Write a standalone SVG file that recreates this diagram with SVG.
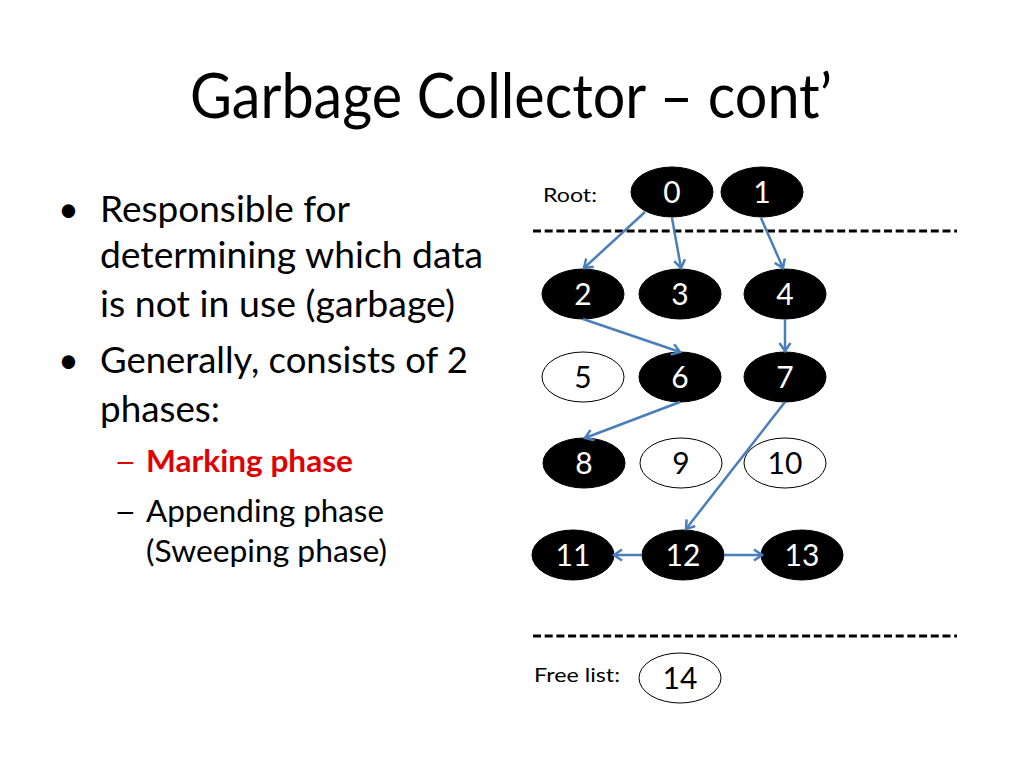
<svg xmlns="http://www.w3.org/2000/svg" width="1024" height="768" viewBox="0 0 1024 768">
<style>
text{font-family:Lato,"Liberation Sans",sans-serif}
.title{font-size:62px;fill:#000}
.body{font-size:36px;fill:#000}
.sub{font-size:30px;fill:#000}
.red{fill:#E00000;font-weight:bold}
.small{font-size:20px;fill:#000}
.blk{fill:#000;stroke:#000;stroke-width:1}
.wht{fill:#fff;stroke:#000;stroke-width:1}
.lblw{font-size:30px;fill:#fff;text-anchor:middle}
.lblb{font-size:30px;fill:#000;text-anchor:middle}
.dash{stroke:#000;stroke-width:2.8;stroke-dasharray:8 3.7}
.edge{stroke:#4A7EBB;stroke-width:2.5;fill:none;marker-end:url(#arr)}
</style>
<defs>
<marker id="arr" markerUnits="userSpaceOnUse" markerWidth="14" markerHeight="14" refX="11" refY="7" orient="auto">
<path d="M3,1.5 L11,7 L3,12.5" fill="none" stroke="#4A7EBB" stroke-width="2.5"/>
</marker>
</defs>
<rect width="1024" height="768" fill="#fff"/>
<text class="title" x="190" y="118" textLength="642" lengthAdjust="spacingAndGlyphs">Garbage Collector – cont’</text>
<g id="bullets">
<text class="body" x="58" y="222">•</text>
<text class="body" x="100" y="222" textLength="250" lengthAdjust="spacingAndGlyphs">Responsible for</text>
<text class="body" x="100" y="268" textLength="383" lengthAdjust="spacingAndGlyphs">determining which data</text>
<text class="body" x="100" y="317" textLength="355" lengthAdjust="spacingAndGlyphs">is not in use (garbage)</text>
<text class="body" x="58" y="373">•</text>
<text class="body" x="100" y="373" textLength="368" lengthAdjust="spacingAndGlyphs">Generally, consists of 2</text>
<text class="body" x="100" y="422" textLength="120" lengthAdjust="spacingAndGlyphs">phases:</text>
<text class="sub" transform="translate(114,472) scale(1.3,1)" x="0" y="0" style="fill:#E00000">–</text>
<text class="sub red" x="146" y="472" textLength="207" lengthAdjust="spacingAndGlyphs">Marking phase</text>
<text class="sub" transform="translate(114,522) scale(1.3,1)" x="0" y="0">–</text>
<text class="sub" x="146" y="522" textLength="238" lengthAdjust="spacingAndGlyphs">Appending phase</text>
<text class="sub" x="146" y="562" textLength="241" lengthAdjust="spacingAndGlyphs">(Sweeping phase)</text>
</g>
<text class="small" x="543" y="202" textLength="54" lengthAdjust="spacingAndGlyphs">Root:</text>
<text class="small" x="534" y="682" textLength="86" lengthAdjust="spacingAndGlyphs">Free list:</text>
<line class="dash" x1="533" y1="231" x2="957" y2="231"/>
<line class="dash" x1="533" y1="636" x2="957" y2="636"/>
<g id="n0"><ellipse class="blk" cx="672" cy="192" rx="41" ry="25"/><text class="lblw" x="672" y="203">0</text></g>
<g id="n1"><ellipse class="blk" cx="762" cy="192" rx="41" ry="25"/><text class="lblw" x="762" y="203">1</text></g>
<g id="n2"><ellipse class="blk" cx="583" cy="294" rx="41" ry="25"/><text class="lblw" x="583" y="305">2</text></g>
<g id="n3"><ellipse class="blk" cx="680" cy="294" rx="41" ry="25"/><text class="lblw" x="680" y="305">3</text></g>
<g id="n4"><ellipse class="blk" cx="785" cy="294" rx="41" ry="25"/><text class="lblw" x="785" y="305">4</text></g>
<g id="n5"><ellipse class="wht" cx="583" cy="377" rx="41" ry="25"/><text class="lblb" x="583" y="388">5</text></g>
<g id="n6"><ellipse class="blk" cx="680" cy="377" rx="41" ry="25"/><text class="lblw" x="680" y="388">6</text></g>
<g id="n7"><ellipse class="blk" cx="785" cy="377" rx="41" ry="25"/><text class="lblw" x="785" y="388">7</text></g>
<g id="n8"><ellipse class="blk" cx="584" cy="463" rx="41" ry="25"/><text class="lblw" x="584" y="474">8</text></g>
<g id="n9"><ellipse class="wht" cx="681" cy="463" rx="41" ry="25"/><text class="lblb" x="681" y="474">9</text></g>
<g id="n10"><ellipse class="wht" cx="785" cy="463" rx="41" ry="25"/><text class="lblb" x="785" y="474">10</text></g>
<g id="n11"><ellipse class="blk" cx="573" cy="555" rx="41" ry="25"/><text class="lblw" x="573" y="566">11</text></g>
<g id="n12"><ellipse class="blk" cx="683" cy="555" rx="41" ry="25"/><text class="lblw" x="683" y="566">12</text></g>
<g id="n13"><ellipse class="blk" cx="802" cy="555" rx="41" ry="25"/><text class="lblw" x="802" y="566">13</text></g>
<g id="n14"><ellipse class="wht" cx="680" cy="678" rx="41" ry="25"/><text class="lblb" x="680" y="689">14</text></g>
<g id="connectors">
<line class="edge" x1="645" y1="212" x2="584" y2="268"/>
<line class="edge" x1="672" y1="218" x2="681" y2="268"/>
<line class="edge" x1="761" y1="218" x2="783" y2="268"/>
<line class="edge" x1="583" y1="319" x2="680" y2="352"/>
<line class="edge" x1="785" y1="319" x2="785" y2="351"/>
<line class="edge" x1="680" y1="402" x2="585" y2="438"/>
<line class="edge" x1="785" y1="402" x2="686" y2="529"/>
<line class="edge" x1="642" y1="555" x2="614" y2="555"/>
<line class="edge" x1="724" y1="555" x2="762" y2="555"/>
</g>
</svg>
